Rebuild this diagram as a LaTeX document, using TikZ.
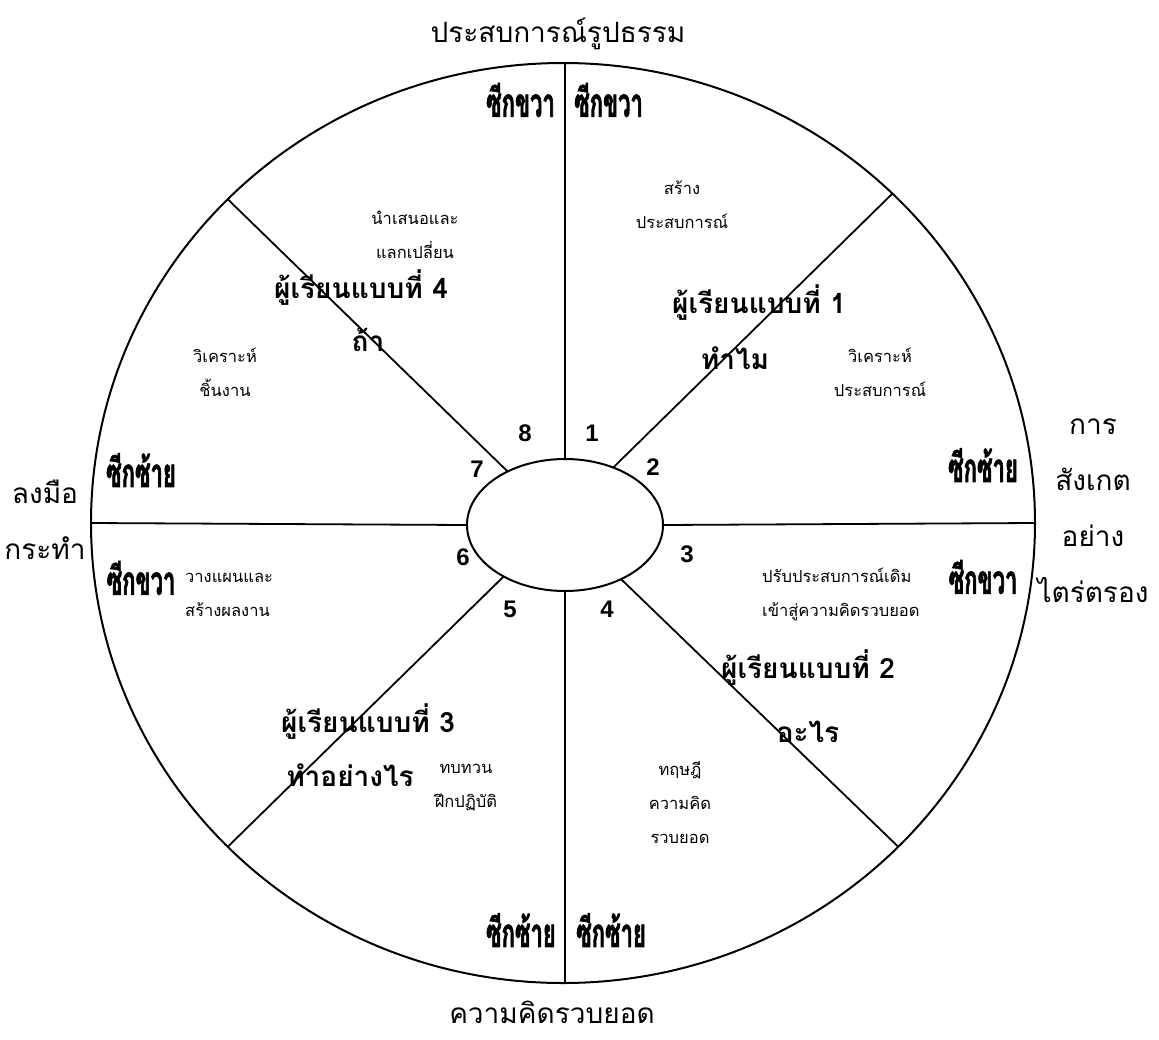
\documentclass[tikz,border=0pt]{standalone}
\usepackage{fontspec}
\newfontfamily\thaifont[Script=Thai]{Loma}
\newfontfamily\thaicond[Script=Thai,FakeStretch=0.55,FakeBold=1.5]{Loma}
\newfontfamily\numfont{Liberation Sans}
\usetikzlibrary{shapes.geometric, positioning}
\tikzset{
    ring/.style={
        draw,
        ellipse,
        line width=2pt,
        inner sep=0pt,
        outer sep=0pt
    },
    spoke/.style={line width=1.8pt},
    rimlabel/.style={font=\thaifont\fontsize{28}{56}\selectfont, align=center},
    side/.style={font=\thaicond\bfseries\fontsize{40}{40}\selectfont, inner sep=0pt},
    learner/.style={font=\thaifont\bfseries\fontsize{28}{50}\selectfont, inner sep=0pt},
    stage/.style={font=\thaifont\fontsize{16.5}{34}\selectfont, align=center, inner sep=0pt},
    num/.style={font=\numfont\bfseries\fontsize{24}{24}\selectfont, inner sep=0pt}
}
\begin{document}
\begin{tikzpicture}[x=1pt, y=-1pt]
\useasboundingbox (0,0) rectangle (1159,1039);

\node[ring, minimum width=944pt, minimum height=920pt] (rim) at (563,523) {};
\node[ring, minimum width=196pt, minimum height=132pt] (hub) at (565,525) {};

\draw[spoke] (hub.north) -- (hub.north |- rim.north);
\draw[spoke] (hub.south) -- (hub.south |- rim.south);
\draw[spoke] (hub.west) -- (rim.west);
\draw[spoke] (hub.east) -- (rim.east);
\draw[spoke] (hub.50) -- (rim.45);
\draw[spoke] (hub.137) -- (rim.136);
\draw[spoke] (hub.-44) -- (rim.-44);
\draw[spoke] (hub.-140) -- (rim.-136);

\node[rimlabel] (concrete) at (558,34) {ประสบการณ์รูปธรรม};
\node[rimlabel] (abstract) at (552,1012) {ความคิดรวบยอด};
\node[rimlabel] (doing) at (45,520) {ลงมือ\\กระทำ};
\node[rimlabel] (watching) at (1093,511) {การ\\สังเกต\\อย่าง\\ไตร่ตรอง};

\node[side, anchor=east] (topl) at (555,100) {ซีกขวา};
\node[side, anchor=west] (topr) at (574,100) {ซีกขวา};
\node[side] (eastu) at (983,465) {ซีกซ้าย};
\node[side] (eastd) at (983,577) {ซีกขวา};
\node[side] (westu) at (141,470) {ซีกซ้าย};
\node[side] (westd) at (141,578) {ซีกขวา};
\node[side, anchor=east] (botl) at (556,930) {ซีกซ้าย};
\node[side, anchor=west] (botr) at (576,930) {ซีกซ้าย};

\node[learner] (type1) at (759,303) {ผู้เรียนแบบที่ 1};
\node[learner] (ask1) at (735,358) {ทำไม};
\node[learner] (type2) at (808,668) {ผู้เรียนแบบที่ 2};
\node[learner] (ask2) at (808,732) {อะไร};
\node[learner] (type3) at (368,722) {ผู้เรียนแบบที่ 3};
\node[learner] (ask3) at (350,775) {ทำอย่างไร};
\node[learner] (type4) at (361,288) {ผู้เรียนแบบที่ 4};
\node[learner] (ask4) at (368,340) {ถ้า};

\node[stage] (st1) at (682,205) {สร้าง\\ประสบการณ์};
\node[stage] (st2) at (880,372) {วิเคราะห์\\ประสบการณ์};
\node[stage, align=left, anchor=west] (st3) at (762,594) {ปรับประสบการณ์เดิม\\เข้าสู่ความคิดรวบยอด};
\node[stage] (st4) at (680,803) {ทฤษฎี\\ความคิด\\รวบยอด};
\node[stage] (st5) at (466,788) {ทบทวน\\ฝึกปฏิบัติ};
\node[stage, align=left, anchor=west] (st6) at (185,595) {วางแผนและ\\สร้างผลงาน};
\node[stage] (st7) at (225,372) {วิเคราะห์\\ชิ้นงาน};
\node[stage] (st8) at (415,235) {นำเสนอและ\\แลกเปลี่ยน};

\node[num] (n1) at (592,433) {1};
\node[num] (n2) at (653,467) {2};
\node[num] (n3) at (687,554) {3};
\node[num] (n4) at (607,609) {4};
\node[num] (n5) at (510,609) {5};
\node[num] (n6) at (463,557) {6};
\node[num] (n7) at (477,469) {7};
\node[num] (n8) at (525,433) {8};
\end{tikzpicture}
\end{document}
